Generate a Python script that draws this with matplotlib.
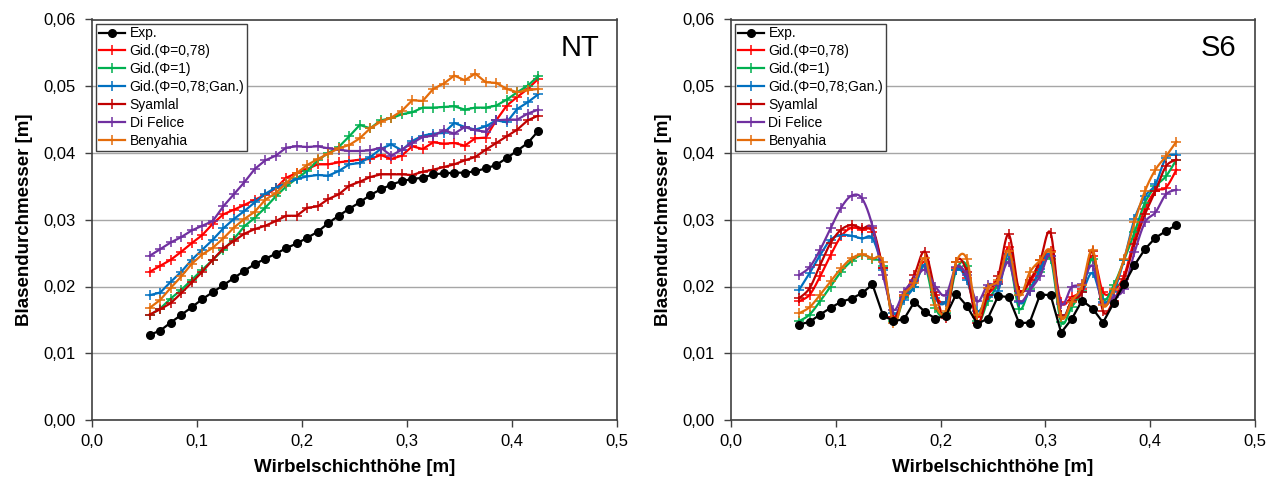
import numpy as np
import matplotlib
matplotlib.use('Agg')
import matplotlib.pyplot as plt
from matplotlib.ticker import FuncFormatter, MultipleLocator

plt.rcParams['font.family'] = ['Liberation Sans', 'DejaVu Sans']

# ---- data (diameters in mm, converted to m below) ----
labels = ['Exp.', 'Gid.(\u03a6=0,78)', 'Gid.(\u03a6=1)', 'Gid.(\u03a6=0,78;Gan.)',
          'Syamlal', 'Di Felice', 'Benyahia']
colors = ['#000000', '#FF0000', '#00B050', '#0070C0', '#C00000', '#7030A0', '#E46C0A']

# NT
x_nt = np.round(np.arange(0.055, 0.4251, 0.01), 3)
nt_exp = [12.75, 13.4, 14.6, 15.75, 16.9, 18.1, 19.15, 20.2, 21.25, 22.35, 23.35, 24.15, 24.9,
          25.75, 26.45, 27.3, 28.2, 29.5, 30.6, 31.65, 32.6, 33.7, 34.55, 35.25, 35.8, 36.1,
          36.3, 36.8, 36.95, 37.05, 37.05, 37.25, 37.7, 38.2, 39.25, 40.35, 41.5, 43.3]
nt_gid078 = [22.2, 23.1, 24.0, 25.2, 26.5, 27.7, 29.4, 30.8, 31.5, 32.2, 33.0, 33.7, 34.7, 36.3,
             37.0, 37.6, 38.3, 38.3, 38.6, 38.8, 39.0, 39.1, 39.7, 39.1, 39.6, 41.0, 40.6, 41.6,
             41.4, 41.5, 41.1, 42.2, 42.3, 44.9, 47.1, 48.4, 49.6, 51.1]
nt_gid1 = [15.7, 16.7, 18.2, 19.5, 21.0, 22.5, 24.0, 25.5, 27.1, 29.0, 30.3, 31.8, 33.5, 35.0,
           36.2, 37.3, 38.9, 40.0, 40.9, 42.5, 44.2, 43.7, 44.9, 45.2, 45.8, 46.1, 46.8, 46.8,
           46.9, 47.0, 46.5, 46.8, 46.8, 47.1, 48.0, 49.1, 50.1, 51.5]
nt_gan = [18.7, 19.1, 20.7, 22.2, 24.0, 25.5, 27.0, 28.7, 30.1, 31.3, 32.6, 33.9, 34.8, 35.5,
          36.1, 36.5, 36.7, 36.6, 37.3, 38.3, 38.5, 39.4, 40.6, 41.3, 40.4, 41.8, 42.6, 42.9,
          43.0, 44.5, 43.9, 43.5, 44.0, 44.9, 44.6, 46.6, 47.6, 48.8]
nt_syamlal = [15.8, 16.6, 17.5, 19.0, 20.6, 22.2, 24.0, 25.7, 26.8, 27.9, 28.6, 29.1, 29.8, 30.6,
              30.6, 31.8, 32.0, 33.1, 33.8, 35.1, 35.7, 36.4, 36.8, 36.8, 36.8, 36.7, 37.2, 37.5,
              37.9, 38.3, 38.9, 39.4, 40.5, 41.5, 42.5, 43.5, 44.9, 45.6]
nt_difelice = [24.6, 25.6, 26.6, 27.4, 28.4, 29.1, 29.8, 32.0, 33.8, 35.6, 37.6, 38.9, 39.6, 40.8,
               41.0, 40.9, 41.0, 40.7, 40.5, 40.3, 40.3, 40.4, 40.8, 39.6, 40.5, 41.5, 42.4, 42.6,
               43.4, 42.9, 43.9, 43.4, 43.2, 44.9, 45.0, 45.0, 45.9, 46.5]
nt_benyahia = [16.8, 18.0, 19.8, 21.5, 23.4, 24.8, 25.8, 27.2, 28.8, 30.1, 31.2, 33.0, 34.0, 35.5,
               37.0, 38.2, 39.1, 39.9, 40.7, 41.2, 42.2, 43.7, 44.7, 45.3, 46.3, 47.9, 47.8, 49.6,
               50.4, 51.6, 50.9, 51.9, 50.6, 50.5, 49.6, 49.1, 49.4, 49.6]

# S6
x_s6 = np.round(np.arange(0.065, 0.4251, 0.01), 3)
s6_exp = [14.3, 14.7, 15.8, 16.8, 17.7, 18.2, 19.0, 20.3, 15.7, 14.8, 15.1, 17.7, 16.2, 15.2,
          15.6, 18.9, 17.1, 14.4, 15.2, 18.6, 18.4, 14.5, 14.6, 18.8, 18.7, 13.1, 15.1, 17.9,
          16.7, 14.6, 17.5, 20.3, 23.2, 25.6, 27.3, 28.3, 29.2]
s6_gid078 = [17.8, 18.75, 21.5, 24.7, 27.5, 28.8, 28.5, 28.2, 22.7, 15.5, 18.5, 20.75, 23.7, 18.75,
             17.75, 22.7, 21.2, 15.5, 18.75, 20.65, 25.85, 19.4, 20.65, 23.1, 25.35, 17.7, 18.4,
             19.65, 24.6, 19.15, 19.4, 21.6, 27.1, 31.6, 34.3, 34.8, 37.5]
s6_gid1 = [14.8, 15.8, 17.8, 20.0, 22.2, 23.8, 24.7, 24.1, 23.0, 14.8, 18.25, 20.0, 23.0, 16.8,
           16.0, 22.5, 23.0, 14.8, 17.8, 20.4, 24.1, 16.7, 19.65, 22.1, 24.1, 14.7, 16.9, 19.4,
           24.1, 18.1, 20.15, 23.9, 28.1, 32.55, 35.0, 36.5, 39.0]
s6_gan = [19.5, 22.0, 24.7, 27.0, 27.7, 27.6, 27.2, 27.2, 22.5, 16.0, 18.0, 20.0, 23.2, 18.25,
          17.7, 22.5, 21.0, 16.3, 18.5, 19.4, 24.85, 17.7, 19.4, 22.6, 24.6, 15.7, 17.7, 19.2,
          22.0, 17.7, 19.2, 24.0, 30.1, 33.5, 35.3, 39.25, 39.75]
s6_syamlal = [18.25, 19.75, 23.2, 26.5, 28.5, 29.2, 28.7, 28.7, 22.7, 15.5, 18.75, 21.75, 25.2,
              19.25, 15.3, 23.7, 22.2, 14.5, 18.75, 21.6, 27.8, 19.4, 20.9, 23.9, 28.0, 15.7,
              17.9, 19.2, 25.3, 16.3, 17.9, 21.1, 26.4, 30.8, 34.3, 38.0, 39.0]
s6_difelice = [21.7, 22.9, 25.5, 28.7, 31.8, 33.6, 33.2, 29.05, 21.7, 16.5, 19.25, 21.0, 22.5,
               20.0, 18.75, 22.98, 21.74, 17.76, 20.25, 20.4, 23.6, 17.9, 19.4, 21.6, 24.6, 17.4,
               19.9, 20.4, 23.1, 17.4, 18.4, 19.65, 25.1, 29.6, 31.1, 33.8, 34.5]
s6_benyahia = [16.0, 16.9, 18.75, 20.75, 22.7, 24.2, 24.8, 24.2, 23.7, 14.5, 18.75, 20.5, 24.2,
               17.3, 16.3, 23.7, 24.1, 15.8, 19.75, 20.9, 25.35, 18.7, 22.1, 23.9, 25.1, 15.45,
               17.7, 20.15, 25.5, 17.2, 19.65, 24.1, 29.6, 34.3, 37.5, 39.5, 41.7]

nt_series = [nt_exp, nt_gid078, nt_gid1, nt_gan, nt_syamlal, nt_difelice, nt_benyahia]
s6_series = [s6_exp, s6_gid078, s6_gid1, s6_gan, s6_syamlal, s6_difelice, s6_benyahia]


def smooth(x, y, n=12):
    # Catmull-Rom like curve through the points (similar to Excel "smoothed line")
    x = np.asarray(x, float)
    y = np.asarray(y, float)
    px = np.concatenate([[x[0]], x, [x[-1]]])
    py = np.concatenate([[y[0]], y, [y[-1]]])
    xs, ys = [], []
    t = np.linspace(0, 1, n, endpoint=False)
    for k in range(len(x) - 1):
        p0, p1, p2, p3 = [np.array([px[k + j], py[k + j]]) for j in range(4)]
        c1 = p1 + (p2 - p0) / 6
        c2 = p2 - (p3 - p1) / 6
        b = ((1 - t) ** 3)[:, None] * p1 + (3 * (1 - t) ** 2 * t)[:, None] * c1 \
            + (3 * (1 - t) * t ** 2)[:, None] * c2 + (t ** 3)[:, None] * p2
        xs.extend(b[:, 0])
        ys.extend(b[:, 1])
    xs.append(x[-1])
    ys.append(y[-1])
    return np.array(xs), np.array(ys), list(range(0, len(xs), n))


fig = plt.figure(figsize=(12.76, 4.82), dpi=100)
H = 482.0
ax1 = fig.add_axes([92 / 1276, 1 - 420 / H, 525 / 1276, 400.5 / H])
ax2 = fig.add_axes([731 / 1276, 1 - 420 / H, 524 / 1276, 400.5 / H])

for ax, xv, series, tag, smoothed in [(ax1, x_nt, nt_series, 'NT', False),
                                      (ax2, x_s6, s6_series, 'S6', True)]:
    for k, (yv, lab, col) in enumerate(zip(series, labels, colors)):
        yv = np.array(yv) / 1000.0
        if k == 0:
            ax.plot(xv, yv, color=col, lw=1.6, marker='o', ms=5.5, label=lab, zorder=10)
        elif smoothed:
            sx, sy, idx = smooth(xv, yv)
            ax.plot(sx, sy, color=col, lw=1.6, marker='+', ms=7, mew=1.1,
                    markevery=idx, label=lab, zorder=3 + k)
        else:
            ax.plot(xv, yv, color=col, lw=1.6, marker='+', ms=7, mew=1.1,
                    label=lab, zorder=3 + k)
    ax.set_xlim(0, 0.5)
    ax.set_ylim(0, 0.06)
    ax.xaxis.set_major_locator(MultipleLocator(0.1))
    ax.yaxis.set_major_locator(MultipleLocator(0.01))
    ax.xaxis.set_major_formatter(FuncFormatter(lambda v, p: f"{v:.1f}".replace('.', ',')))
    ax.yaxis.set_major_formatter(FuncFormatter(lambda v, p: f"{v:.2f}".replace('.', ',')))
    ax.grid(axis='y', color='#a6a6a6', lw=1.0)
    ax.set_axisbelow(True)
    ax.tick_params(direction='out', length=5, width=1, labelsize=12, color='#404040')
    ax.tick_params(axis='y', pad=7)
    ax.tick_params(axis='x', pad=5)
    ax.tick_params(top=False, right=False)
    for s in ax.spines.values():
        s.set_color('#404040')
        s.set_linewidth(1.2)
    ax.set_xlabel('Wirbelschichth\u00f6he [m]', fontsize=13.5, fontweight='bold', labelpad=7)
    ax.set_ylabel('Blasendurchmesser [m]', fontsize=13.5, fontweight='bold', labelpad=7)
    ax.text(0.93, 0.93, tag, transform=ax.transAxes, fontsize=21, ha='center', va='center')
    leg = ax.legend(loc='upper left', fontsize=10, frameon=True, fancybox=False,
                    framealpha=1, edgecolor='#404040', borderaxespad=0.3,
                    handlelength=1.9, handletextpad=0.3, labelspacing=0.28,
                    borderpad=0.2)
    leg.get_frame().set_linewidth(1.0)

fig.savefig('out.png', dpi=100)
